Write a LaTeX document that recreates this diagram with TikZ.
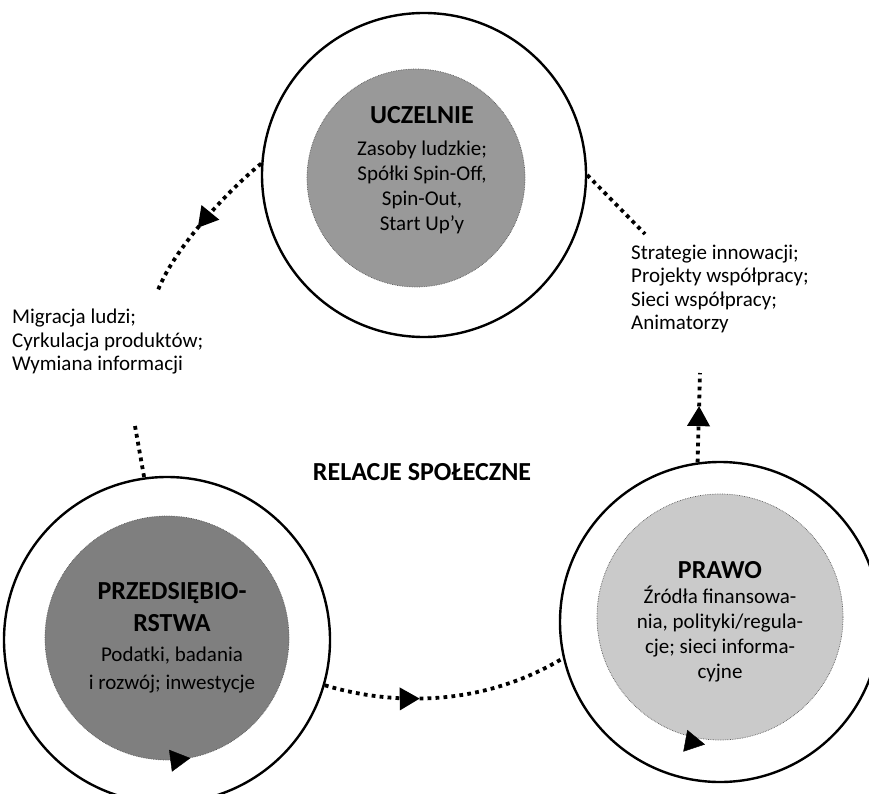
\documentclass[tikz,border=0pt]{standalone}
\usepackage{fontspec}
\setmainfont{Carlito}
\usetikzlibrary{arrows.meta,decorations.markings}
\definecolor{uczgray}{RGB}{153,153,153}
\definecolor{przgray}{RGB}{127,127,127}
\definecolor{prawgray}{RGB}{202,202,202}

\tikzset{
  ringstyle/.style={circle, draw, line width=2.4pt, minimum size=#1, inner sep=0pt},
  corestyle/.style={circle, draw=black!65, densely dotted, line width=0.7pt, minimum size=#1, inner sep=0pt},
  coretext/.style={align=center, inner sep=0pt, font=\fontsize{21}{25}\selectfont},
  flow/.style={line width=3.8pt, dash pattern=on 3.8pt off 4.2pt},
  headtip/.style={-{Triangle[length=20pt,width=22pt]}, solid, line width=0.4pt},
  midtip/.style={postaction={decorate}, decoration={markings,
    mark=at position #1 with {\arrow{Triangle[length=20pt,width=22pt]}}}},
  sidetext/.style={anchor=west, align=left, inner sep=0pt, font=\fontsize{21}{23.5}\selectfont}
}
\newcommand{\ttl}[1]{{\bfseries\fontsize{26}{30}\selectfont #1}}

\begin{document}
\begin{tikzpicture}[x=1pt, y=-1pt]
\useasboundingbox (0,0) rectangle (869,794);
% circles
\node[ringstyle=324pt] (uczRing) at (424,175) {};
\node[ringstyle=326pt] (przRing) at (167,640) {};
\node[ringstyle=320pt] (prawRing) at (720,622) {};
\node[corestyle=218pt, fill=uczgray, label={[coretext, xshift=6pt, yshift=8pt]center:{\ttl{UCZELNIE}\\[7pt] Zasoby ludzkie;\\ Spółki Spin-Off,\\ Spin-Out,\\ Start Up’y}}] (ucz) at (416,178) {};
\node[corestyle=244pt, fill=przgray, label={[coretext, xshift=5pt]center:{\ttl{PRZEDSIĘBIO-}\\[7pt] \ttl{RSTWA}\\[5pt] Podatki, badania\\[3pt] i rozwój; inwestycje}}] (prz) at (167,638) {};
\node[corestyle=246pt, fill=prawgray, label={[coretext, yshift=-5pt]center:{\ttl{PRAWO}\\ Źródła finansowa-\\ nia, polityki/regula-\\ cje; sieci informa-\\ cyjne}}] (praw) at (720,617) {};
\draw[headtip] (prz.274) -- (prz.281);
\draw[headtip] ([yshift=-5pt]praw.256) -- ([yshift=-5pt]praw.263);
% texts
\node[font=\bfseries\fontsize{26}{30}\selectfont] (rel) at (422,472) {RELACJE SPOŁECZNE};
\node[sidetext] (migr) at (12,342) {Migracja ludzi;\\ Cyrkulacja produktów;\\ Wymiana informacji};
\node[sidetext] (strat) at (631,289) {Strategie innowacji;\\ Projekty współpracy;\\ Sieci współpracy;\\ Animatorzy};
% connectors
\coordinate (ulEnd) at (158,290);
\coordinate (llStart) at (135,426);
\coordinate (urEnd) at (645,234);
\coordinate (lrStart) at (700,373);
\draw[flow, midtip=0.55] (uczRing.176) .. controls (232,187) and (176,245) .. (ulEnd);
\draw[flow] (llStart) -- (przRing.98);
\draw[flow] (uczRing.0) -- (urEnd);
\draw[flow, midtip=0.63] (prawRing.98) -- (lrStart);
\draw[flow, midtip=0.39] (przRing.-16) .. controls (390,705) and (480,708) .. (prawRing.193);
\end{tikzpicture}
\end{document}
